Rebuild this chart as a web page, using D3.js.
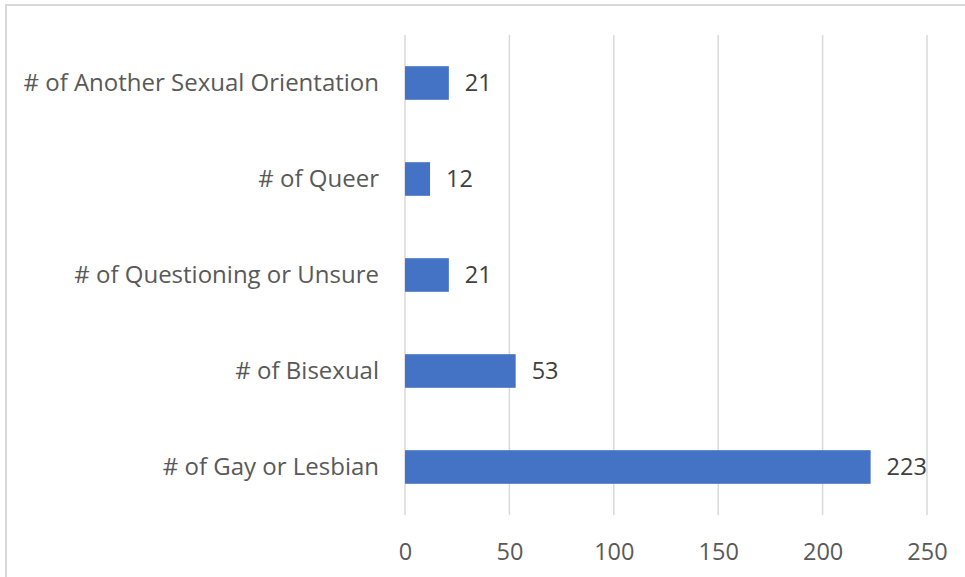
<!DOCTYPE html>
<html>
<head>
<meta charset="utf-8">
<script src="https://cdn.jsdelivr.net/npm/d3@7"></script>
<style>
  html, body { margin: 0; padding: 0; background: #fff; }
  svg { display: block; }
</style>
</head>
<body>
<svg id="chart" width="965" height="577"></svg>
<script>
// Counts by sexual orientation (top to bottom as drawn)
const categories = [
  "# of Another Sexual Orientation",
  "# of Queer",
  "# of Questioning or Unsure",
  "# of Bisexual",
  "# of Gay or Lesbian"
];
const counts = [21, 12, 21, 53, 223];
const xTicks = [0, 50, 100, 150, 200, 250];

const svg = d3.select("#chart");
const font = "'Open Sans', 'Noto Sans', sans-serif";
const fontSize = "23.5px";
const textColor = "#595959";
const gridColor = "#d9d9d9";

// Chart frame (extends past the viewport on the right and bottom)
svg.append("rect")
  .attr("x", 6).attr("y", 5)
  .attr("width", 1000).attr("height", 600)
  .attr("fill", "none")
  .attr("stroke", gridColor)
  .attr("stroke-width", 2);

const plot = { left: 405, right: 927, top: 35, bottom: 515 };

const x = d3.scaleLinear().domain([0, 250]).range([plot.left, plot.right]);
const y = d3.scaleBand().domain(categories).range([plot.top, plot.bottom])
  .paddingInner(0.65).paddingOuter(0.325);

// Vertical gridlines
svg.append("g").selectAll("line").data(xTicks).join("line")
  .attr("x1", d => x(d)).attr("x2", d => x(d))
  .attr("y1", plot.top).attr("y2", plot.bottom)
  .attr("stroke", gridColor).attr("stroke-width", 1.5);

// Bottom axis labels
const xAxis = d3.axisBottom(x).tickValues(xTicks).tickSize(0).tickPadding(0);
const gx = svg.append("g").attr("transform", `translate(0,${plot.bottom + 28})`).call(xAxis);
gx.select(".domain").remove();
gx.selectAll("text")
  .attr("dy", "0.35em").attr("y", 9)
  .attr("fill", textColor)
  .style("font-family", font).style("font-size", fontSize);

// Category labels
const yAxis = d3.axisLeft(y).tickSize(0).tickPadding(0);
const gy = svg.append("g").attr("transform", `translate(${plot.left - 26},0)`).call(yAxis);
gy.select(".domain").remove();
gy.selectAll("text")
  .attr("fill", textColor)
  .style("font-family", font).style("font-size", "24px");

// Bars
svg.append("g").selectAll("rect").data(categories).join("rect")
  .attr("x", x(0))
  .attr("y", d => y(d))
  .attr("width", (d, i) => x(counts[i]) - x(0))
  .attr("height", y.bandwidth())
  .attr("fill", "#4472c4");

// Value labels
svg.append("g").selectAll("text").data(categories).join("text")
  .attr("x", (d, i) => x(counts[i]) + 16)
  .attr("y", d => y(d) + y.bandwidth() / 2)
  .attr("dy", "0.35em")
  .attr("fill", "#404040")
  .style("font-family", font).style("font-size", fontSize)
  .text((d, i) => counts[i]);
</script>
</body>
</html>
